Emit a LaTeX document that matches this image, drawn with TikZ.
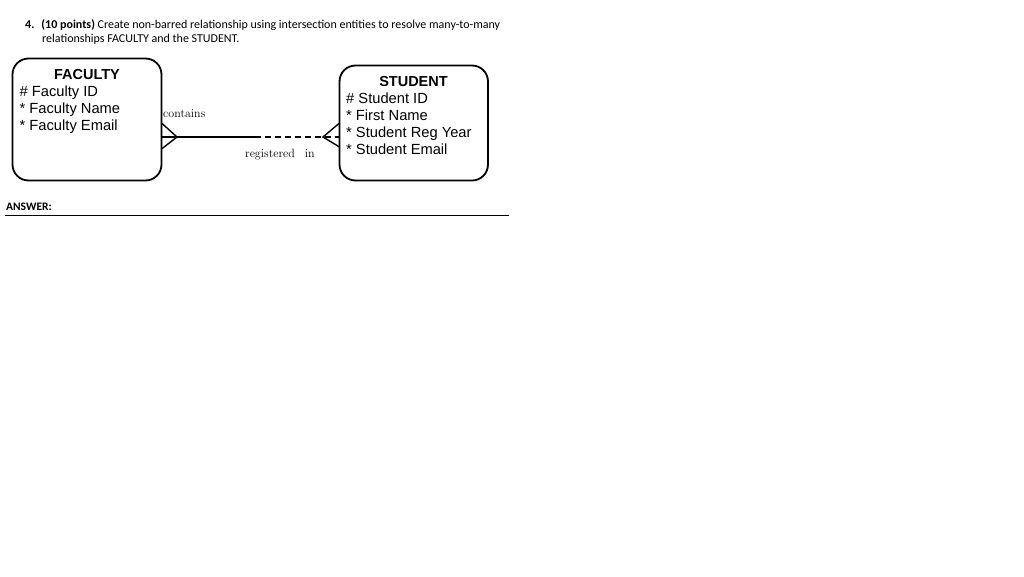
\documentclass[tikz,border=0pt]{standalone}
\usepackage{fontspec}
\setmainfont{Liberation Sans}
\newfontfamily\calib{Carlito}
\newfontfamily\lmserif{Latin Modern Roman}
\begin{document}
\begin{tikzpicture}[x=1pt,y=-1pt,
  ent/.style={draw,line width=1.8pt,rounded corners=16pt},
  attr/.style={anchor=base west,inner sep=0pt,font=\fontsize{14.7}{16}\selectfont},
  ttl/.style={anchor=base,inner sep=0pt,font=\fontsize{14.5}{16}\selectfont\bfseries},
  hdr/.style={anchor=base west,inner sep=0pt,font=\calib\fontsize{12}{14}\selectfont},
  rel/.style={inner sep=0pt,font=\lmserif\fontsize{12}{14}\selectfont},
  conn/.style={line width=1.4pt}]
\useasboundingbox (0,0) rectangle (1024,576);
\fill[white] (0,0) rectangle (1024,576);
% header
\node[hdr] (h1) at (25,28) {\textbf{4.}\hspace{7pt}\textbf{(10 points)} Create non-barred relationship using intersection entities to resolve many-to-many};
\node[hdr] (h2) at (42,42) {relationships FACULTY and the STUDENT.};
% entities
\draw[ent] (12.5,58.5) rectangle (161.5,180.5);
\coordinate (fe) at (161.5,137);
\node[ttl] (ft) at (87,79.5) {FACULTY};
\node[attr] (f1) at (19.5,96.5) {\# Faculty ID};
\node[attr] (f2) at (19.5,113.3) {* Faculty Name};
\node[attr] (f3) at (19.5,130) {* Faculty Email};
\draw[ent] (339.5,65.5) rectangle (488,180.5);
\coordinate (se) at (339.5,137);
\node[ttl] (st) at (413.5,86.5) {STUDENT};
\node[attr] (s1) at (346,103) {\# Student ID};
\node[attr] (s2) at (346,120) {* First Name};
\node[attr] (s3) at (346,137) {* Student Reg Year};
\node[attr] (s4) at (346,154) {* Student Email};
% relationship
\coordinate (mid) at (255,137);
\coordinate (fc) at (177,137);
\coordinate (sc) at (323,137);
\draw[conn] (fe) -- (mid);
\draw[conn,dash pattern=on 6pt off 4pt] (mid) -- (se);
\draw[conn] (161.5,123) -- (fc) -- (161.5,149);
\draw[conn] (339.5,123) -- (sc) -- (339.5,147);
\node[rel,anchor=base west] (lc) at (163,117) {contains};
\node[rel,anchor=base west] (lr) at (245,157) {registered\hspace{10pt}in};
% answer
\node[hdr,font=\calib\bfseries\fontsize{11.5}{13}\selectfont] (ans) at (6,210) {ANSWER:};
\coordinate (a1) at (5,215);
\coordinate (a2) at (509,215);
\draw[line width=0.8pt] (a1) -- (a2);
\end{tikzpicture}
\end{document}
